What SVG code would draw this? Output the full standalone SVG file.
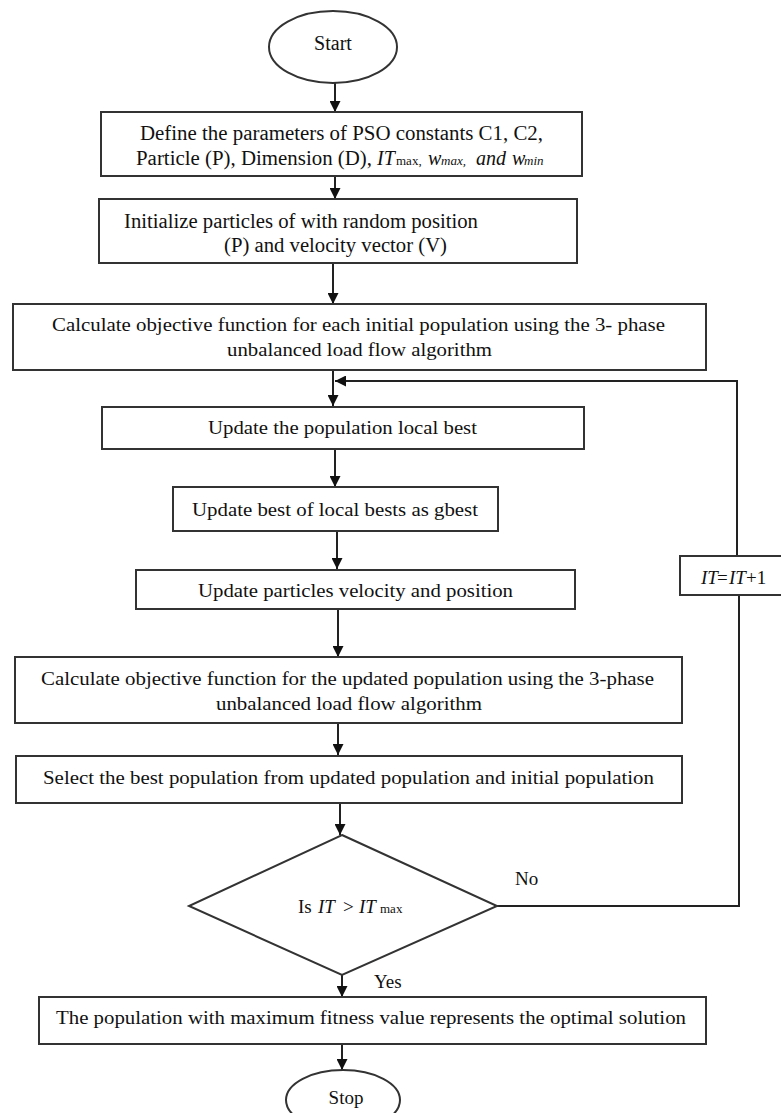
<svg xmlns="http://www.w3.org/2000/svg" width="781" height="1113" viewBox="0 0 781 1113">
<style>
.box{fill:#fff;stroke:#333;stroke-width:2}
.ln{fill:none;stroke:#222;stroke-width:2}
text{font-family:"Liberation Serif","Times New Roman",serif;font-size:19px;fill:#111}
.big{font-size:20px}
.it{font-style:italic}
.sub{font-size:13px}
</style>
<defs>
<marker id="ah" viewBox="0 0 10 10" refX="10" refY="5" markerWidth="11" markerHeight="11" markerUnits="userSpaceOnUse" orient="auto">
<path d="M0,0 L10,5 L0,10 z" fill="#111"/>
</marker>
</defs>
<rect width="781" height="1113" fill="#fff"/>
<g id="connectors">
<line class="ln" x1="335" y1="83" x2="335" y2="112" marker-end="url(#ah)"/>
<line class="ln" x1="335" y1="176" x2="335" y2="199" marker-end="url(#ah)"/>
<line class="ln" x1="333" y1="263" x2="333" y2="304" marker-end="url(#ah)"/>
<line class="ln" x1="333" y1="370" x2="333" y2="406" marker-end="url(#ah)"/>
<line class="ln" x1="335" y1="449" x2="335" y2="487" marker-end="url(#ah)"/>
<line class="ln" x1="337" y1="531" x2="337" y2="569" marker-end="url(#ah)"/>
<line class="ln" x1="338" y1="609" x2="338" y2="657" marker-end="url(#ah)"/>
<line class="ln" x1="338" y1="724" x2="338" y2="755" marker-end="url(#ah)"/>
<line class="ln" x1="340" y1="803" x2="340" y2="835" marker-end="url(#ah)"/>
<line class="ln" x1="342" y1="975" x2="342" y2="997" marker-end="url(#ah)"/>
<line class="ln" x1="342" y1="1045" x2="342" y2="1070" marker-end="url(#ah)"/>
<polyline class="ln" points="497,906 739,906 739,595"/>
<polyline class="ln" points="737,556 737,381 335,381" marker-end="url(#ah)"/>
</g>
<g id="start">
<ellipse class="box" cx="333" cy="47" rx="64" ry="36"/>
<text x="333" y="50" text-anchor="middle" class="big">Start</text>
</g>
<g id="define">
<rect class="box" x="101" y="112" width="481" height="64"/>
<text class="big" x="140" y="140" textLength="403" lengthAdjust="spacingAndGlyphs">Define the parameters of PSO constants C1, C2,</text>
<text class="big" x="136" y="165" textLength="236" lengthAdjust="spacingAndGlyphs">Particle (P), Dimension (D),</text>
<text class="big" y="165"><tspan x="377" class="it">IT</tspan><tspan x="396" class="sub">max,</tspan><tspan x="428" class="it">w</tspan><tspan x="441" class="it sub">max,</tspan><tspan x="476" class="it">and</tspan><tspan x="512" class="it">w</tspan><tspan x="524" class="it sub">min</tspan></text>
</g>
<g id="init">
<rect class="box" x="99" y="199" width="478" height="64"/>
<text class="big" x="124" y="228" textLength="354" lengthAdjust="spacingAndGlyphs">Initialize particles of with random position</text>
<text class="big" x="224" y="252" textLength="223" lengthAdjust="spacingAndGlyphs">(P) and velocity vector (V)</text>
</g>
<g id="calc1">
<rect class="box" x="13" y="304" width="693" height="66"/>
<text x="52" y="331" textLength="613" lengthAdjust="spacingAndGlyphs">Calculate objective function for each initial population using the 3- phase</text>
<text x="227" y="356" textLength="265" lengthAdjust="spacingAndGlyphs">unbalanced load flow algorithm</text>
</g>
<g id="localbest">
<rect class="box" x="102" y="407" width="482" height="42"/>
<text x="208" y="434" textLength="269" lengthAdjust="spacingAndGlyphs">Update the population local best</text>
</g>
<g id="gbest">
<rect class="box" x="173" y="487" width="325" height="44"/>
<text x="192" y="516" textLength="286" lengthAdjust="spacingAndGlyphs">Update best of local bests as gbest</text>
</g>
<g id="velocity">
<rect class="box" x="136" y="570" width="439" height="39"/>
<text x="198" y="597" textLength="315" lengthAdjust="spacingAndGlyphs">Update particles velocity and position</text>
</g>
<g id="calc2">
<rect class="box" x="15" y="657" width="667" height="66"/>
<text x="41" y="685" textLength="613" lengthAdjust="spacingAndGlyphs">Calculate objective function for the updated population using the 3-phase</text>
<text x="216" y="710" textLength="266" lengthAdjust="spacingAndGlyphs">unbalanced load flow algorithm</text>
</g>
<g id="select">
<rect class="box" x="16" y="756" width="666" height="47"/>
<text x="43" y="784" textLength="611" lengthAdjust="spacingAndGlyphs">Select the best population from updated population and initial population</text>
</g>
<g id="decision">
<polygon class="box" points="342,835 497,906 342,975 189,906"/>
<text y="913"><tspan x="298">Is</tspan><tspan x="318" class="it">IT</tspan><tspan x="343">&gt;</tspan><tspan x="359" class="it">IT</tspan><tspan x="380" class="sub">max</tspan></text>
</g>
<g id="increment">
<rect class="box" x="680" y="556" width="110" height="39"/>
<text y="584"><tspan x="701" class="it">IT</tspan><tspan x="717">=</tspan><tspan x="729" class="it">IT</tspan><tspan x="746">+1</tspan></text>
</g>
<g id="labels">
<text x="515" y="885">No</text>
<text x="374" y="988">Yes</text>
</g>
<g id="result">
<rect class="box" x="39" y="997" width="667" height="47"/>
<text x="56" y="1024" textLength="630" lengthAdjust="spacingAndGlyphs">The population with maximum fitness value represents the optimal solution</text>
</g>
<g id="stop">
<ellipse class="box" cx="343" cy="1100" rx="57" ry="30"/>
<text x="346" y="1104" text-anchor="middle">Stop</text>
</g>
</svg>
